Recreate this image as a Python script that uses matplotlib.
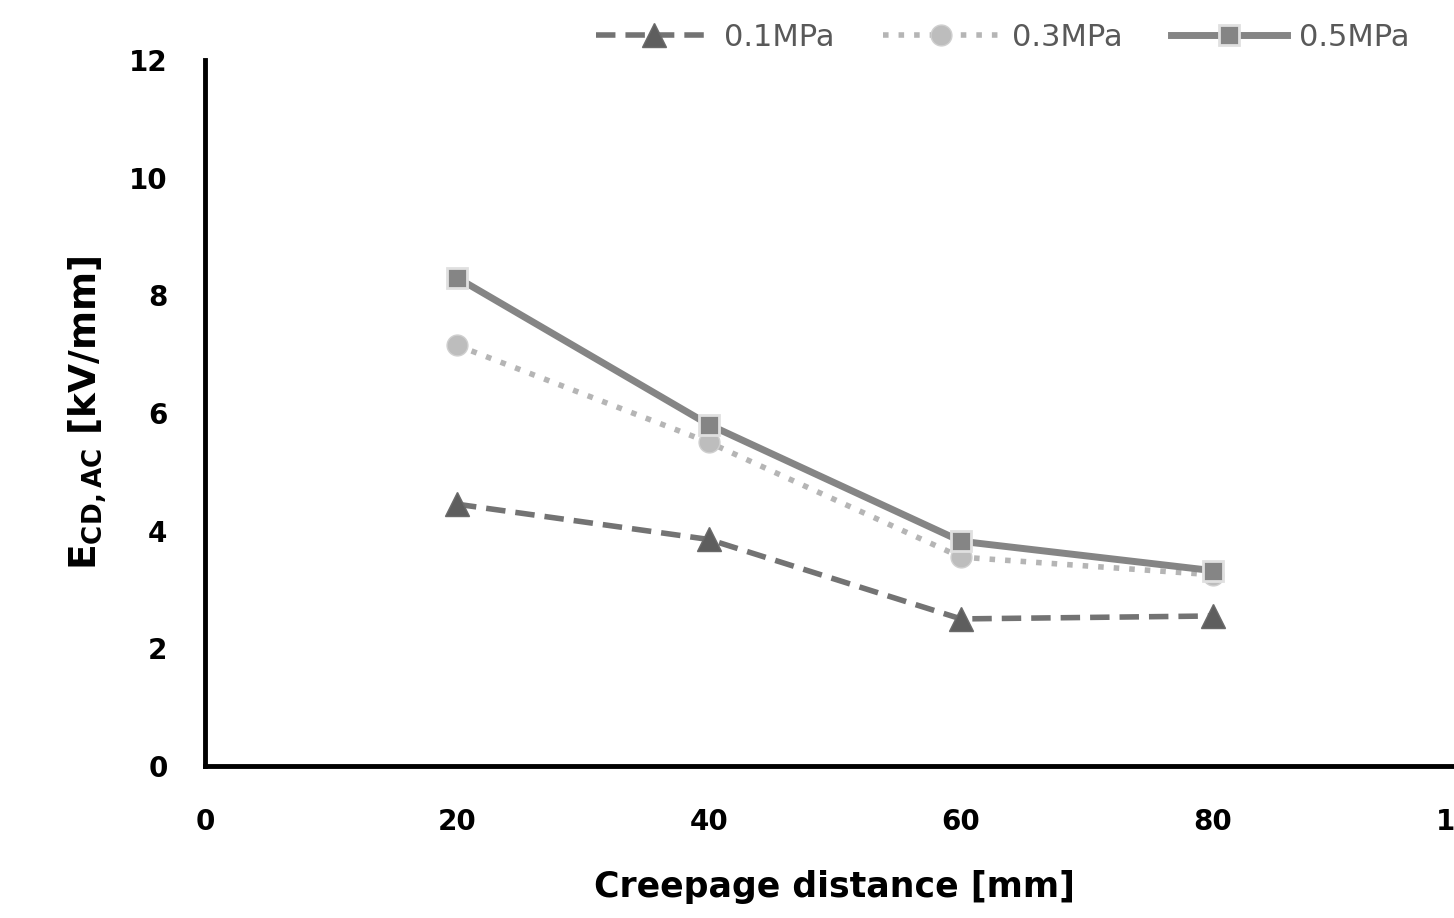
import matplotlib.pyplot as plt

# data
distance = [20, 40, 60, 80]
e_01 = [4.45, 3.85, 2.5, 2.55]
e_03 = [7.15, 5.5, 3.55, 3.25]
e_05 = [8.3, 5.8, 3.82, 3.32]
labels = ["0.1MPa", "0.3MPa", "0.5MPa"]
x_ticks = [0, 20, 40, 60, 80, 100]
y_ticks = [0, 2, 4, 6, 8, 10, 12]

fig = plt.figure(figsize=(14.54, 9.18), dpi=100)
ax = fig.add_axes([205 / 1454, (918 - 766) / 918, (1465 - 205) / 1454, (766 - 60) / 918])

ax.plot(distance, e_01, label=labels[0], color="#737373", linestyle=(0, (3.5, 1.8)), linewidth=4,
        marker="^", markersize=17, markerfacecolor="#5e5e5e", markeredgecolor="#6a6a6a", markeredgewidth=1)
ax.plot(distance, e_03, label=labels[1], color="#b5b5b5", linestyle=(0, (1, 1.8)), linewidth=4,
        marker="o", markersize=15, markerfacecolor="#bdbdbd", markeredgecolor="#cfcfcf", markeredgewidth=1)
ax.plot(distance, e_05, label=labels[2], color="#858585", linestyle="-", linewidth=5,
        marker="s", markersize=15, markerfacecolor="#858585", markeredgecolor="#e0e0e0", markeredgewidth=2)

ax.set_xlim(0, 100)
ax.set_ylim(0, 12)
ax.set_xticks(x_ticks)
ax.set_yticks(y_ticks)
ax.tick_params(length=0, labelsize=20)
for t in ax.get_xticklabels() + ax.get_yticklabels():
    t.set_fontweight("bold")
ax.tick_params(axis="x", pad=30)
ax.tick_params(axis="y", pad=27)

for s in ["top", "right"]:
    ax.spines[s].set_visible(False)
for s in ["left", "bottom"]:
    ax.spines[s].set_linewidth(3.5)
    ax.spines[s].set_color("black")

ax.set_xlabel("Creepage distance [mm]", fontsize=25, fontweight="bold", labelpad=25)
ax.set_ylabel(r"E$_{\mathregular{CD,AC}}$ [kV/mm]", fontsize=27, fontweight="bold", labelpad=14)

leg = fig.legend(loc="upper left", bbox_to_anchor=(568 / 1454, 1.005), ncol=3, frameon=False,
                 fontsize=22, handlelength=3.8, columnspacing=1.6, handletextpad=0.4)
for t in leg.get_texts():
    t.set_color("#595959")

fig.savefig("out.png", dpi=100)
